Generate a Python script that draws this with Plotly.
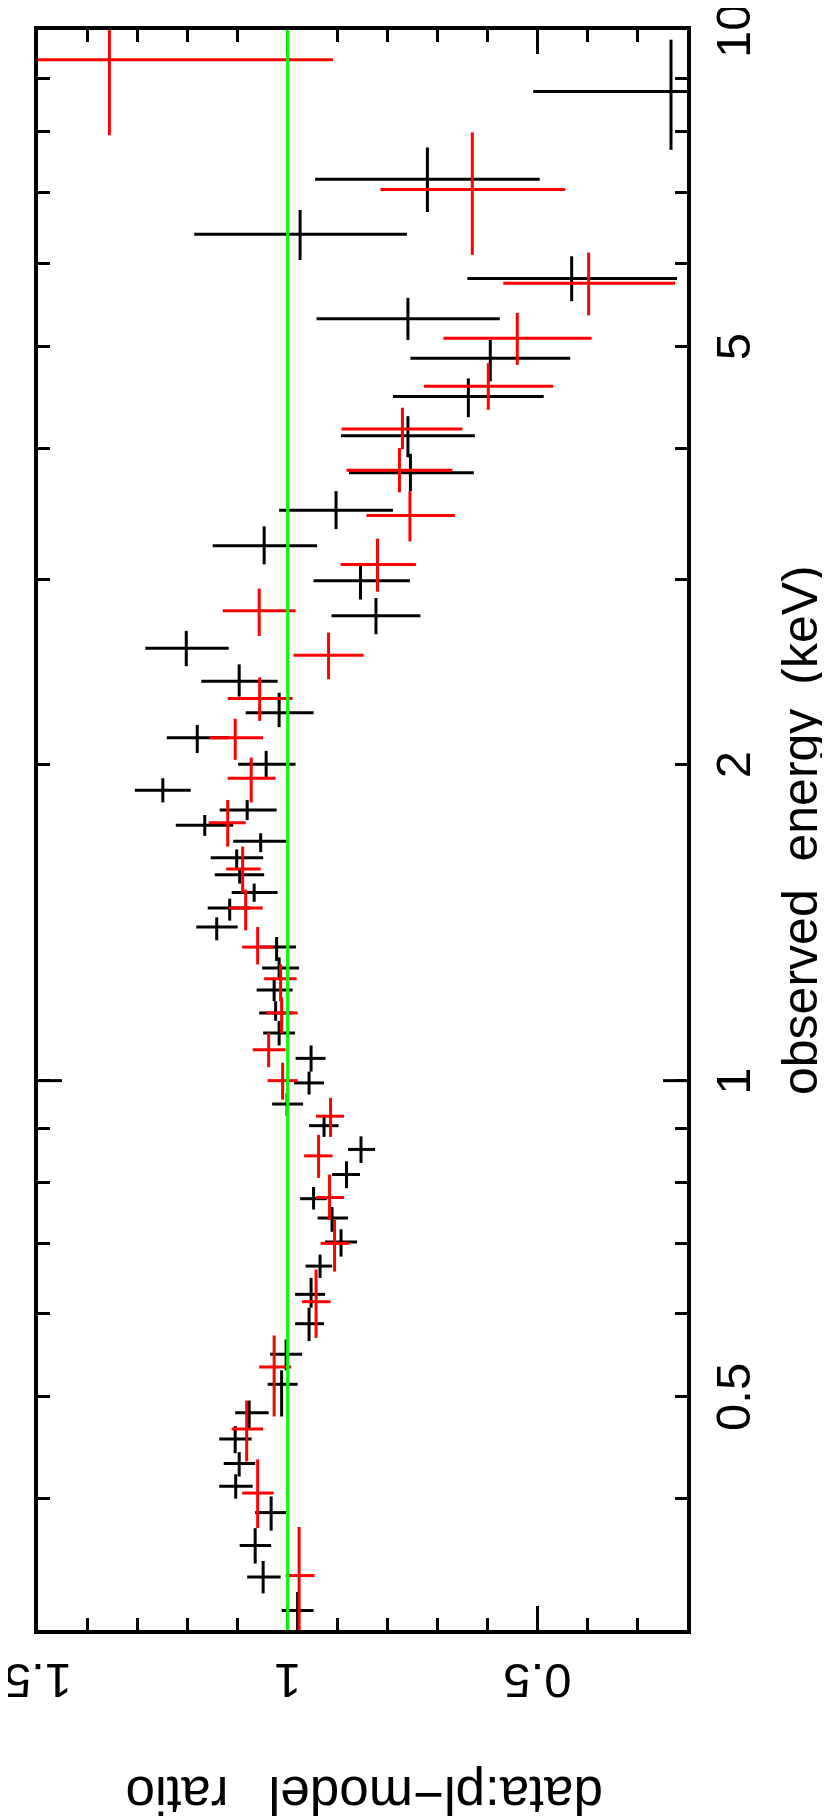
import plotly.graph_objects as go

# ---- data (energy in keV, bin edges; ratio and its lower/upper limits) ----
blk_E   = [8.74, 7.21, 6.39, 5.80, 5.31, 4.87, 4.48, 4.11, 3.79, 3.49, 3.23, 2.99, 2.77, 2.58, 2.40, 2.24,
           2.12, 2.00, 1.89, 1.81, 1.75, 1.69, 1.63, 1.57, 1.51, 1.46, 1.40, 1.34, 1.28, 1.22, 1.16, 1.11,
           1.05, 0.995, 0.95, 0.906, 0.860, 0.814, 0.772, 0.740, 0.702, 0.666, 0.626, 0.587, 0.549, 0.514,
           0.483, 0.456, 0.432, 0.411, 0.388, 0.361, 0.337, 0.313]
blk_Elo = [7.69, 6.71, 6.04, 5.52, 5.07, 4.63, 4.28, 3.92, 3.64, 3.35, 3.10, 2.87, 2.66, 2.48, 2.32, 2.17,
           2.05, 1.94, 1.84, 1.77, 1.71, 1.65, 1.59, 1.54, 1.48, 1.42, 1.36, 1.30, 1.25, 1.19, 1.14, 1.08,
           1.02, 0.97, 0.925, 0.884, 0.835, 0.790, 0.754, 0.718, 0.680, 0.649, 0.608, 0.565, 0.530, 0.479,
           0.465, 0.442, 0.420, 0.400, 0.373, 0.347, 0.325, 0.30]
blk_Ehi = [9.79, 7.73, 6.74, 6.09, 5.56, 5.07, 4.66, 4.29, 3.95, 3.64, 3.37, 3.11, 2.88, 2.68, 2.49, 2.34,
           2.18, 2.06, 1.94, 1.85, 1.79, 1.72, 1.66, 1.59, 1.54, 1.49, 1.43, 1.37, 1.31, 1.25, 1.19, 1.14,
           1.08, 1.02, 0.973, 0.928, 0.885, 0.838, 0.792, 0.758, 0.722, 0.683, 0.649, 0.608, 0.567, 0.530,
           0.496, 0.469, 0.443, 0.422, 0.402, 0.375, 0.349, 0.326]
blk_R   = [0.232, 0.720, 0.975, 0.431, 0.759, 0.594, 0.638, 0.759, 0.754, 0.903, 1.047, 0.854, 0.823, 1.203,
           1.097, 1.017, 1.181, 1.043, 1.250, 1.081, 1.166, 1.054, 1.102, 1.096, 1.067, 1.116, 1.142, 1.022,
           1.017, 1.027, 1.024, 1.017, 0.953, 0.957, 1.001, 0.927, 0.853, 0.882, 0.948, 0.911, 0.893, 0.935,
           0.953, 0.957, 1.003, 1.012, 1.077, 1.105, 1.097, 1.104, 1.033, 1.065, 1.049, 0.980]
blk_Rlo = [0.15, 0.495, 0.761, 0.220, 0.575, 0.434, 0.487, 0.625, 0.627, 0.789, 0.941, 0.755, 0.734, 1.118,
           1.020, 0.948, 1.116, 0.984, 1.194, 1.022, 1.109, 1.001, 1.049, 1.047, 1.020, 1.075, 1.100, 0.983,
           0.977, 0.990, 0.990, 0.985, 0.924, 0.927, 0.969, 0.898, 0.825, 0.855, 0.921, 0.879, 0.861, 0.911,
           0.925, 0.927, 0.971, 0.980, 1.038, 1.072, 1.065, 1.070, 1.003, 1.033, 1.014, 0.948]
blk_Rhi = [0.508, 0.945, 1.187, 0.640, 0.942, 0.754, 0.789, 0.893, 0.877, 1.017, 1.150, 0.948, 0.912, 1.285,
           1.173, 1.084, 1.242, 1.099, 1.306, 1.136, 1.224, 1.109, 1.154, 1.146, 1.112, 1.160, 1.183, 1.054,
           1.051, 1.062, 1.057, 1.049, 0.984, 0.987, 1.031, 0.957, 0.879, 0.911, 0.975, 0.940, 0.925, 0.964,
           0.985, 0.985, 1.035, 1.040, 1.105, 1.137, 1.128, 1.137, 1.065, 1.096, 1.081, 1.012]

red_E   = [9.37, 7.05, 5.74, 5.09, 4.58, 4.17, 3.81, 3.45, 3.10, 2.80, 2.54, 2.31, 2.12, 1.94, 1.76, 1.59,
           1.46, 1.34, 1.25, 1.16, 1.07, 1.00, 0.925, 0.848, 0.774, 0.700, 0.616, 0.534, 0.466, 0.405, 0.338]
red_Elo = [7.94, 6.11, 5.35, 4.80, 4.35, 3.99, 3.63, 3.26, 2.92, 2.65, 2.41, 2.20, 2.02, 1.84, 1.67, 1.51,
           1.39, 1.29, 1.19, 1.11, 1.03, 0.959, 0.884, 0.808, 0.737, 0.658, 0.569, 0.479, 0.434, 0.375, 0.29]
red_Ehi = [10.0, 7.99, 6.14, 5.38, 4.82, 4.37, 4.00, 3.64, 3.28, 2.94, 2.67, 2.42, 2.21, 2.03, 1.85, 1.67,
           1.52, 1.40, 1.29, 1.20, 1.11, 1.04, 0.963, 0.888, 0.814, 0.737, 0.661, 0.572, 0.496, 0.436, 0.376]
red_R   = [1.357, 0.630, 0.397, 0.540, 0.598, 0.770, 0.776, 0.755, 0.820, 1.057, 0.918, 1.056, 1.105, 1.073,
           1.120, 1.090, 1.084, 1.060, 1.014, 1.012, 1.038, 1.010, 0.914, 0.938, 0.916, 0.906, 0.943, 1.027,
           1.082, 1.060, 0.977]
red_Rlo = [0.909, 0.444, 0.224, 0.391, 0.468, 0.650, 0.670, 0.665, 0.743, 0.984, 0.848, 0.990, 1.049, 1.024,
           1.084, 1.054, 1.050, 1.028, 0.982, 0.980, 1.004, 0.980, 0.887, 0.910, 0.887, 0.876, 0.914, 0.993,
           1.049, 1.028, 0.946]
red_Rhi = [1.6, 0.814, 0.568, 0.688, 0.727, 0.892, 0.882, 0.842, 0.894, 1.130, 0.988, 1.120, 1.157, 1.120,
           1.158, 1.123, 1.118, 1.091, 1.047, 1.043, 1.070, 1.040, 0.943, 0.967, 0.943, 0.934, 0.971, 1.057,
           1.112, 1.091, 1.004]

model_ratio = 1.0
x_ticks = [1.5, 1.0, 0.5]
x_ticktext = ["1.5", "1", "0.5"]
y_ticks = [0.3, 0.4, 0.5, 0.6, 0.7, 0.8, 0.9, 1, 2, 3, 4, 5, 6, 7, 8, 9, 10]
y_label_vals = [0.5, 1, 2, 5, 10]
y_label_text = ["0.5", "1", "2", "5", "10"]

FONT = "Liberation Sans, Arial, sans-serif"
BODY = 8                      # default page margin of the html body
W, H = 830 - BODY, 1820 - BODY
FX0, FX1, FY0, FY1 = 38, 687, 30, 1630   # frame in page pixels
L, T = FX0 - BODY, FY0 - BODY
R, B = 830 - FX1, 1820 - FY1
PW, PH = FX1 - FX0, FY1 - FY0


def trace(E, Elo, Ehi, Rv, Rlo, Rhi, color):
    return go.Scatter(
        x=Rv, y=E, mode="markers",
        marker=dict(size=1, color="rgba(0,0,0,0)"),
        error_x=dict(type="data", symmetric=False,
                     array=[h - v for h, v in zip(Rhi, Rv)],
                     arrayminus=[v - l for l, v in zip(Rlo, Rv)],
                     color=color, thickness=3, width=0),
        error_y=dict(type="data", symmetric=False,
                     array=[h - v for h, v in zip(Ehi, E)],
                     arrayminus=[v - l for l, v in zip(Elo, E)],
                     color=color, thickness=3, width=0),
        showlegend=False, hoverinfo="skip",
    )


fig = go.Figure()
fig.add_trace(trace(blk_E, blk_Elo, blk_Ehi, blk_R, blk_Rlo, blk_Rhi, "#000000"))
fig.add_trace(trace(red_E, red_Elo, red_Ehi, red_R, red_Rlo, red_Rhi, "#ff0000"))

# model line
fig.add_shape(type="line", xref="x", yref="y domain", x0=model_ratio, x1=model_ratio, y0=0, y1=1,
              line=dict(color="#00ff00", width=3), layer="above")

# long major ticks at 1 keV on both sides
tl = 24 / PW
for xa, xb in [(0, tl), (1 - tl, 1)]:
    fig.add_shape(type="line", xref="x domain", yref="y", x0=xa, x1=xb, y0=1, y1=1,
                  line=dict(color="black", width=3))

fig.update_layout(
    width=W, height=H, autosize=False,
    margin=dict(l=L, r=R, t=T, b=B, pad=0),
    paper_bgcolor="white", plot_bgcolor="white",
    font=dict(family=FONT, color="black", size=49),
    xaxis=dict(
        range=[1.5, 0.2], tickmode="array", tickvals=x_ticks, showticklabels=False,
        ticks="inside", ticklen=24, tickwidth=3, tickcolor="black",
        minor=dict(dtick=0.1, tick0=0, ticks="inside", ticklen=12, tickwidth=3, tickcolor="black"),
        showline=True, linewidth=4, linecolor="black", mirror="allticks",
        showgrid=False, zeroline=False,
    ),
    yaxis=dict(
        type="log", range=[-0.5229, 1.0], side="right",
        tickmode="array", tickvals=y_ticks, showticklabels=False,
        ticks="inside", ticklen=12, tickwidth=3, tickcolor="black",
        showline=True, linewidth=4, linecolor="black", mirror="allticks",
        showgrid=False, zeroline=False,
    ),
)

# tick labels (rotated like the reference)
for v, t in zip(x_ticks, x_ticktext):
    fig.add_annotation(text=t, textangle=180, xref="x", yref="paper", x=v,
                       y=-(1681 - FY1) / PH, xanchor="center", yanchor="middle",
                       showarrow=False, font=dict(size=49, family=FONT))
for v, t in zip(y_label_vals, y_label_text):
    fig.add_annotation(text=t, textangle=-90, xref="paper", yref="y", x=(733 - FX0) / PW,
                       y=__import__("math").log10(v), xanchor="center", yanchor="middle",
                       showarrow=False, font=dict(size=49, family=FONT))

fig.add_annotation(text="observed\u00a0\u00a0energy\u00a0\u2009(keV)", textangle=-90,
                   xref="paper", yref="paper", x=(800 - FX0) / PW, y=(1830 - 2 * 830) / PH + 0.5 - (1830 - 2 * 830) / PH,
                   xanchor="center", yanchor="middle", showarrow=False,
                   font=dict(size=50, family=FONT))
fig.add_annotation(text="data:pl\u2212model\u00a0\u00a0\u2009ratio", textangle=180,
                   xref="paper", yref="paper", x=(364 - FX0) / PW, y=-(1796 - FY1) / PH,
                   xanchor="center", yanchor="middle", showarrow=False,
                   font=dict(size=53, family=FONT))

fig.write_html("out.html")
